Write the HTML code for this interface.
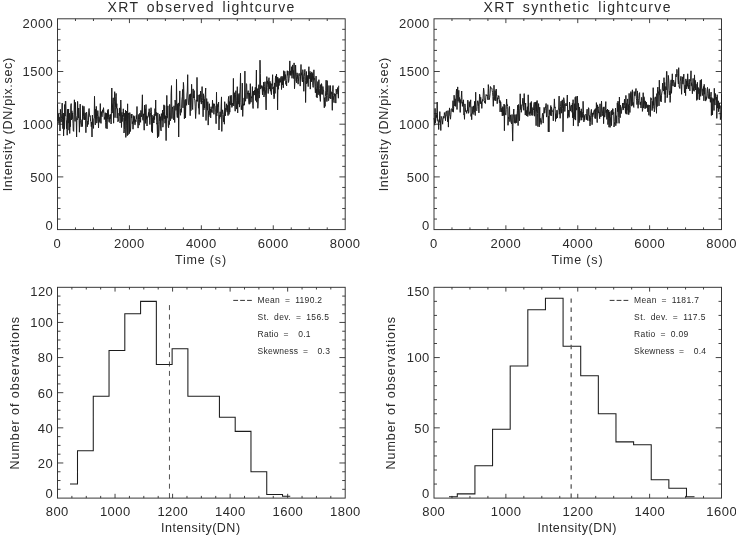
<!DOCTYPE html>
<html lang="en">
<head>
<meta charset="utf-8">
<title>XRT observed and synthetic lightcurves</title>
<style>
html,body{margin:0;padding:0;background:#fff;}
body{width:736px;height:535px;overflow:hidden;}
svg{display:block;}
text{white-space:pre;}
</style>
</head>
<body>
<svg width="736" height="535" viewBox="0 0 736 535">
<rect width="736" height="535" fill="#fff"/>
<rect x="57.5" y="18.8" width="287.7" height="210.8" fill="none" stroke="#2e2e2e" stroke-width="0.95"/>
<path d="M75.48 229.6v-2.2M75.48 18.8v2.2M93.46 229.6v-2.2M93.46 18.8v2.2M111.44 229.6v-2.2M111.44 18.8v2.2M129.43 229.6v-4.3M129.43 18.8v4.3M147.41 229.6v-2.2M147.41 18.8v2.2M165.39 229.6v-2.2M165.39 18.8v2.2M183.37 229.6v-2.2M183.37 18.8v2.2M201.35 229.6v-4.3M201.35 18.8v4.3M219.33 229.6v-2.2M219.33 18.8v2.2M237.31 229.6v-2.2M237.31 18.8v2.2M255.29 229.6v-2.2M255.29 18.8v2.2M273.27 229.6v-4.3M273.27 18.8v4.3M291.26 229.6v-2.2M291.26 18.8v2.2M309.24 229.6v-2.2M309.24 18.8v2.2M327.22 229.6v-2.2M327.22 18.8v2.2M57.5 219.06h3M345.2 219.06h-3M57.5 208.52h3M345.2 208.52h-3M57.5 197.98h3M345.2 197.98h-3M57.5 187.44h3M345.2 187.44h-3M57.5 176.9h5.8M345.2 176.9h-5.8M57.5 166.36h3M345.2 166.36h-3M57.5 155.82h3M345.2 155.82h-3M57.5 145.28h3M345.2 145.28h-3M57.5 134.74h3M345.2 134.74h-3M57.5 124.2h5.8M345.2 124.2h-5.8M57.5 113.66h3M345.2 113.66h-3M57.5 103.12h3M345.2 103.12h-3M57.5 92.58h3M345.2 92.58h-3M57.5 82.04h3M345.2 82.04h-3M57.5 71.5h5.8M345.2 71.5h-5.8M57.5 60.96h3M345.2 60.96h-3M57.5 50.42h3M345.2 50.42h-3M57.5 39.88h3M345.2 39.88h-3M57.5 29.34h3M345.2 29.34h-3" fill="none" stroke="#2e2e2e" stroke-width="0.9"/>
<rect x="434" y="18.8" width="287.5" height="210.8" fill="none" stroke="#2e2e2e" stroke-width="0.95"/>
<path d="M451.97 229.6v-2.2M451.97 18.8v2.2M469.94 229.6v-2.2M469.94 18.8v2.2M487.91 229.6v-2.2M487.91 18.8v2.2M505.88 229.6v-4.3M505.88 18.8v4.3M523.84 229.6v-2.2M523.84 18.8v2.2M541.81 229.6v-2.2M541.81 18.8v2.2M559.78 229.6v-2.2M559.78 18.8v2.2M577.75 229.6v-4.3M577.75 18.8v4.3M595.72 229.6v-2.2M595.72 18.8v2.2M613.69 229.6v-2.2M613.69 18.8v2.2M631.66 229.6v-2.2M631.66 18.8v2.2M649.62 229.6v-4.3M649.62 18.8v4.3M667.59 229.6v-2.2M667.59 18.8v2.2M685.56 229.6v-2.2M685.56 18.8v2.2M703.53 229.6v-2.2M703.53 18.8v2.2M434 219.06h3M721.5 219.06h-3M434 208.52h3M721.5 208.52h-3M434 197.98h3M721.5 197.98h-3M434 187.44h3M721.5 187.44h-3M434 176.9h5.8M721.5 176.9h-5.8M434 166.36h3M721.5 166.36h-3M434 155.82h3M721.5 155.82h-3M434 145.28h3M721.5 145.28h-3M434 134.74h3M721.5 134.74h-3M434 124.2h5.8M721.5 124.2h-5.8M434 113.66h3M721.5 113.66h-3M434 103.12h3M721.5 103.12h-3M434 92.58h3M721.5 92.58h-3M434 82.04h3M721.5 82.04h-3M434 71.5h5.8M721.5 71.5h-5.8M434 60.96h3M721.5 60.96h-3M434 50.42h3M721.5 50.42h-3M434 39.88h3M721.5 39.88h-3M434 29.34h3M721.5 29.34h-3" fill="none" stroke="#2e2e2e" stroke-width="0.9"/>
<rect x="57.5" y="287.3" width="287.7" height="210.8" fill="none" stroke="#2e2e2e" stroke-width="0.95"/>
<path d="M71.89 498.1v-2.2M71.89 287.3v2.2M86.27 498.1v-2.2M86.27 287.3v2.2M100.66 498.1v-2.2M100.66 287.3v2.2M115.04 498.1v-4.3M115.04 287.3v4.3M129.43 498.1v-2.2M129.43 287.3v2.2M143.81 498.1v-2.2M143.81 287.3v2.2M158.19 498.1v-2.2M158.19 287.3v2.2M172.58 498.1v-4.3M172.58 287.3v4.3M186.97 498.1v-2.2M186.97 287.3v2.2M201.35 498.1v-2.2M201.35 287.3v2.2M215.74 498.1v-2.2M215.74 287.3v2.2M230.12 498.1v-4.3M230.12 287.3v4.3M244.5 498.1v-2.2M244.5 287.3v2.2M258.89 498.1v-2.2M258.89 287.3v2.2M273.27 498.1v-2.2M273.27 287.3v2.2M287.66 498.1v-4.3M287.66 287.3v4.3M302.05 498.1v-2.2M302.05 287.3v2.2M316.43 498.1v-2.2M316.43 287.3v2.2M330.81 498.1v-2.2M330.81 287.3v2.2M57.5 489.32h3M345.2 489.32h-3M57.5 480.53h3M345.2 480.53h-3M57.5 471.75h3M345.2 471.75h-3M57.5 462.97h5.8M345.2 462.97h-5.8M57.5 454.18h3M345.2 454.18h-3M57.5 445.4h3M345.2 445.4h-3M57.5 436.62h3M345.2 436.62h-3M57.5 427.83h5.8M345.2 427.83h-5.8M57.5 419.05h3M345.2 419.05h-3M57.5 410.27h3M345.2 410.27h-3M57.5 401.48h3M345.2 401.48h-3M57.5 392.7h5.8M345.2 392.7h-5.8M57.5 383.92h3M345.2 383.92h-3M57.5 375.13h3M345.2 375.13h-3M57.5 366.35h3M345.2 366.35h-3M57.5 357.57h5.8M345.2 357.57h-5.8M57.5 348.78h3M345.2 348.78h-3M57.5 340h3M345.2 340h-3M57.5 331.22h3M345.2 331.22h-3M57.5 322.43h5.8M345.2 322.43h-5.8M57.5 313.65h3M345.2 313.65h-3M57.5 304.87h3M345.2 304.87h-3M57.5 296.08h3M345.2 296.08h-3" fill="none" stroke="#2e2e2e" stroke-width="0.9"/>
<rect x="434" y="287.3" width="287.5" height="210.8" fill="none" stroke="#2e2e2e" stroke-width="0.95"/>
<path d="M451.97 498.1v-2.2M451.97 287.3v2.2M469.94 498.1v-2.2M469.94 287.3v2.2M487.91 498.1v-2.2M487.91 287.3v2.2M505.88 498.1v-4.3M505.88 287.3v4.3M523.84 498.1v-2.2M523.84 287.3v2.2M541.81 498.1v-2.2M541.81 287.3v2.2M559.78 498.1v-2.2M559.78 287.3v2.2M577.75 498.1v-4.3M577.75 287.3v4.3M595.72 498.1v-2.2M595.72 287.3v2.2M613.69 498.1v-2.2M613.69 287.3v2.2M631.66 498.1v-2.2M631.66 287.3v2.2M649.62 498.1v-4.3M649.62 287.3v4.3M667.59 498.1v-2.2M667.59 287.3v2.2M685.56 498.1v-2.2M685.56 287.3v2.2M703.53 498.1v-2.2M703.53 287.3v2.2M434 484.05h3M721.5 484.05h-3M434 469.99h3M721.5 469.99h-3M434 455.94h3M721.5 455.94h-3M434 441.89h3M721.5 441.89h-3M434 427.83h5.8M721.5 427.83h-5.8M434 413.78h3M721.5 413.78h-3M434 399.73h3M721.5 399.73h-3M434 385.67h3M721.5 385.67h-3M434 371.62h3M721.5 371.62h-3M434 357.57h5.8M721.5 357.57h-5.8M434 343.51h3M721.5 343.51h-3M434 329.46h3M721.5 329.46h-3M434 315.41h3M721.5 315.41h-3M434 301.35h3M721.5 301.35h-3" fill="none" stroke="#2e2e2e" stroke-width="0.9"/>
<polyline points="57.5,104.2 57.9,121.0 58.2,117.1 58.6,114.2 58.9,123.5 59.3,117.3 59.7,117.4 60.0,131.0 60.4,109.4 60.7,112.7 61.1,122.2 61.5,118.7 61.8,113.4 62.2,103.1 62.5,119.2 62.9,128.7 63.3,113.0 63.6,135.9 64.0,115.2 64.3,129.3 64.7,104.5 65.1,116.1 65.4,101.0 65.8,101.5 66.1,117.7 66.5,128.7 66.9,120.5 67.2,135.2 67.6,109.2 67.9,120.6 68.3,123.1 68.6,109.0 69.0,130.2 69.4,113.2 69.7,133.5 70.1,122.5 70.4,126.7 70.8,105.9 71.2,103.6 71.5,119.9 71.9,110.8 72.2,118.8 72.6,112.9 73.0,123.2 73.3,130.7 73.7,131.4 74.0,114.4 74.4,99.8 74.8,115.2 75.1,121.4 75.5,102.4 75.8,115.5 76.2,116.6 76.6,137.0 76.9,118.4 77.3,119.8 77.6,101.4 78.0,113.4 78.4,118.1 78.7,108.0 79.1,120.2 79.4,132.2 79.8,118.1 80.2,104.1 80.5,120.3 80.9,124.3 81.2,126.7 81.6,125.5 82.0,119.7 82.3,126.6 82.7,105.7 83.0,119.7 83.4,116.8 83.8,106.6 84.1,106.3 84.5,119.9 84.8,115.8 85.2,112.8 85.6,120.2 85.9,132.7 86.3,113.9 86.6,112.2 87.0,116.1 87.3,126.8 87.7,121.2 88.1,124.5 88.4,122.4 88.8,110.1 89.1,108.5 89.5,115.3 89.9,116.5 90.2,115.6 90.6,121.2 90.9,121.8 91.3,126.7 91.7,122.0 92.0,137.0 92.4,115.1 92.7,124.8 93.1,125.5 93.5,128.4 93.8,118.5 94.2,118.1 94.5,96.3 94.9,116.9 95.3,124.9 95.6,109.1 96.0,118.8 96.3,106.4 96.7,123.1 97.1,121.6 97.4,116.8 97.8,110.6 98.1,114.2 98.5,128.0 98.9,116.7 99.2,117.8 99.6,121.1 99.9,122.5 100.3,103.6 100.7,120.1 101.0,123.4 101.4,111.6 101.7,115.3 102.1,116.7 102.5,109.8 102.8,111.8 103.2,112.6 103.5,107.7 103.9,112.7 104.3,119.5 104.6,117.4 105.0,118.5 105.3,112.7 105.7,122.6 106.0,128.3 106.4,113.2 106.8,124.2 107.1,128.8 107.5,110.5 107.8,118.9 108.2,109.3 108.6,117.2 108.9,121.6 109.3,122.4 109.6,116.6 110.0,114.6 110.4,118.7 110.7,114.4 111.1,124.0 111.4,111.8 111.8,88.0 112.2,113.1 112.5,106.0 112.9,102.8 113.2,97.8 113.6,123.2 114.0,105.0 114.3,101.4 114.7,91.7 115.0,117.7 115.4,107.7 115.8,96.7 116.1,93.4 116.5,108.3 116.8,103.7 117.2,118.1 117.6,108.5 117.9,121.8 118.3,120.2 118.6,120.6 119.0,113.1 119.4,115.6 119.7,107.9 120.1,123.0 120.4,117.1 120.8,100.0 121.2,112.4 121.5,127.5 121.9,112.3 122.2,121.6 122.6,115.0 123.0,115.8 123.3,108.8 123.7,117.5 124.0,133.0 124.4,129.4 124.7,113.1 125.1,120.9 125.5,110.2 125.8,137.4 126.2,125.2 126.5,111.0 126.9,125.9 127.3,135.7 127.6,103.8 128.0,134.9 128.3,115.2 128.7,112.9 129.1,119.2 129.4,133.6 129.8,112.6 130.1,131.7 130.5,130.9 130.9,123.2 131.2,114.3 131.6,118.0 131.9,114.0 132.3,123.8 132.7,121.7 133.0,129.2 133.4,122.8 133.7,115.6 134.1,122.6 134.5,116.5 134.8,124.7 135.2,124.8 135.5,119.8 135.9,121.7 136.3,115.5 136.6,118.7 137.0,106.5 137.3,121.8 137.7,121.8 138.1,128.1 138.4,119.8 138.8,114.4 139.1,125.2 139.5,119.5 139.9,113.2 140.2,119.6 140.6,122.3 140.9,110.4 141.3,117.0 141.7,114.3 142.0,108.0 142.4,94.8 142.7,119.3 143.1,120.4 143.5,113.8 143.8,116.8 144.2,130.2 144.5,105.2 144.9,114.7 145.2,108.8 145.6,123.4 146.0,104.5 146.3,119.3 146.7,115.8 147.0,126.0 147.4,116.6 147.8,117.3 148.1,117.2 148.5,112.5 148.8,115.7 149.2,108.7 149.6,120.2 149.9,124.5 150.3,117.1 150.6,112.3 151.0,107.7 151.4,111.2 151.7,131.6 152.1,115.1 152.4,132.8 152.8,117.9 153.2,122.7 153.5,116.4 153.9,123.0 154.2,114.3 154.6,119.6 155.0,108.6 155.3,115.7 155.7,100.0 156.0,115.0 156.4,112.4 156.8,124.2 157.1,123.1 157.5,137.9 157.8,112.9 158.2,124.6 158.6,136.6 158.9,133.9 159.3,121.9 159.6,114.3 160.0,120.9 160.4,116.6 160.7,128.9 161.1,130.9 161.4,113.6 161.8,116.7 162.2,120.5 162.5,110.1 162.9,127.2 163.2,122.9 163.6,111.4 163.9,104.8 164.3,118.8 164.7,105.6 165.0,123.2 165.4,115.7 165.7,119.4 166.1,140.6 166.5,115.5 166.8,95.4 167.2,118.2 167.5,117.4 167.9,105.8 168.3,126.1 168.6,127.7 169.0,120.8 169.3,124.6 169.7,104.4 170.1,112.1 170.4,120.9 170.8,118.6 171.1,93.9 171.5,85.6 171.9,118.6 172.2,109.9 172.6,106.9 172.9,109.8 173.3,118.2 173.7,119.8 174.0,105.8 174.4,110.5 174.7,122.5 175.1,100.1 175.5,102.9 175.8,110.4 176.2,110.2 176.5,79.4 176.9,112.8 177.3,117.5 177.6,104.1 178.0,117.5 178.3,102.9 178.7,137.0 179.1,106.2 179.4,106.2 179.8,90.9 180.1,112.8 180.5,115.3 180.9,109.0 181.2,112.4 181.6,107.9 181.9,99.8 182.3,96.7 182.6,89.5 183.0,107.9 183.4,82.4 183.7,86.1 184.1,102.9 184.4,118.8 184.8,101.3 185.2,99.8 185.5,118.0 185.9,99.2 186.2,101.1 186.6,105.3 187.0,94.0 187.3,91.0 187.7,74.7 188.0,97.0 188.4,103.8 188.8,104.8 189.1,98.0 189.5,94.5 189.8,102.9 190.2,115.7 190.6,93.8 190.9,110.8 191.3,97.3 191.6,84.3 192.0,98.3 192.4,107.4 192.7,109.5 193.1,88.9 193.4,98.1 193.8,93.7 194.2,90.6 194.5,98.5 194.9,100.8 195.2,106.1 195.6,118.5 196.0,111.1 196.3,100.1 196.7,101.2 197.0,77.4 197.4,101.4 197.8,99.5 198.1,94.9 198.5,108.2 198.8,103.9 199.2,114.4 199.6,94.6 199.9,102.2 200.3,99.0 200.6,91.0 201.0,94.9 201.3,104.1 201.7,97.6 202.1,86.6 202.4,100.6 202.8,103.0 203.1,116.8 203.5,93.8 203.9,109.9 204.2,99.2 204.6,107.9 204.9,97.0 205.3,94.6 205.7,88.0 206.0,120.5 206.4,106.1 206.7,98.6 207.1,108.2 207.5,110.2 207.8,101.7 208.2,125.1 208.5,110.9 208.9,116.7 209.3,103.7 209.6,111.8 210.0,114.9 210.3,109.0 210.7,117.9 211.1,106.7 211.4,112.1 211.8,109.9 212.1,112.7 212.5,100.2 212.9,108.4 213.2,103.6 213.6,104.1 213.9,114.3 214.3,103.8 214.7,105.7 215.0,106.1 215.4,111.8 215.7,112.2 216.1,123.7 216.5,92.2 216.8,115.9 217.2,105.4 217.5,112.6 217.9,103.8 218.3,106.7 218.6,102.0 219.0,130.0 219.3,115.3 219.7,118.5 220.1,111.8 220.4,116.8 220.8,116.3 221.1,106.2 221.5,96.9 221.8,131.4 222.2,114.5 222.6,109.8 222.9,112.0 223.3,114.3 223.6,121.8 224.0,118.2 224.4,124.2 224.7,101.7 225.1,108.9 225.4,115.8 225.8,108.1 226.2,110.3 226.5,103.8 226.9,106.7 227.2,112.1 227.6,105.4 228.0,115.6 228.3,99.6 228.7,96.4 229.0,114.4 229.4,101.6 229.8,112.2 230.1,95.7 230.5,96.6 230.8,105.0 231.2,95.2 231.6,106.0 231.9,107.4 232.3,106.6 232.6,103.0 233.0,104.2 233.4,78.4 233.7,105.9 234.1,94.9 234.4,92.7 234.8,104.2 235.2,111.2 235.5,94.2 235.9,90.7 236.2,100.6 236.6,109.1 237.0,96.7 237.3,86.7 237.7,112.9 238.0,94.3 238.4,100.2 238.8,104.2 239.1,93.4 239.5,107.1 239.8,94.4 240.2,86.2 240.5,73.2 240.9,102.8 241.3,109.6 241.6,105.7 242.0,110.0 242.3,83.1 242.7,116.4 243.1,103.6 243.4,105.5 243.8,103.7 244.1,97.9 244.5,105.2 244.9,71.1 245.2,101.0 245.6,101.2 245.9,92.6 246.3,83.6 246.7,84.6 247.0,98.7 247.4,92.8 247.7,93.6 248.1,90.6 248.5,92.6 248.8,101.9 249.2,104.3 249.5,93.1 249.9,103.6 250.3,83.7 250.6,94.0 251.0,102.2 251.3,96.7 251.7,98.1 252.1,95.1 252.4,86.6 252.8,105.2 253.1,108.5 253.5,91.2 253.9,95.2 254.2,92.5 254.6,90.2 254.9,95.0 255.3,87.3 255.7,100.5 256.0,93.0 256.4,70.0 256.7,102.2 257.1,88.5 257.5,88.8 257.8,108.3 258.2,101.9 258.5,90.8 258.9,84.7 259.2,98.1 259.6,94.3 260.0,60.2 260.3,73.6 260.7,89.1 261.0,85.9 261.4,87.6 261.8,85.5 262.1,87.8 262.5,94.8 262.8,86.5 263.2,91.3 263.6,82.1 263.9,97.0 264.3,95.4 264.6,86.4 265.0,81.7 265.4,89.9 265.7,95.9 266.1,109.9 266.4,94.0 266.8,76.6 267.2,83.7 267.5,80.9 267.9,87.6 268.2,93.5 268.6,81.2 269.0,77.7 269.3,85.0 269.7,89.1 270.0,81.3 270.4,91.2 270.8,83.2 271.1,93.1 271.5,94.7 271.8,84.1 272.2,85.4 272.6,74.7 272.9,89.1 273.3,86.8 273.6,94.3 274.0,98.8 274.4,97.9 274.7,82.9 275.1,93.4 275.4,78.1 275.8,75.9 276.2,86.7 276.5,74.0 276.9,82.9 277.2,77.0 277.6,109.9 278.0,77.6 278.3,89.3 278.7,79.2 279.0,85.7 279.4,83.4 279.7,78.4 280.1,81.0 280.5,82.3 280.8,77.1 281.2,76.4 281.5,89.5 281.9,77.4 282.3,76.4 282.6,84.9 283.0,77.6 283.3,87.8 283.7,70.7 284.1,80.7 284.4,79.5 284.8,71.4 285.1,79.4 285.5,74.6 285.9,84.4 286.2,81.2 286.6,86.0 286.9,78.5 287.3,70.7 287.7,75.3 288.0,71.1 288.4,82.5 288.7,81.4 289.1,78.5 289.5,71.9 289.8,60.9 290.2,75.0 290.5,70.9 290.9,75.6 291.3,74.8 291.6,66.7 292.0,78.3 292.3,73.7 292.7,64.9 293.1,74.2 293.4,70.5 293.8,78.6 294.1,62.9 294.5,88.7 294.9,81.9 295.2,81.4 295.6,65.1 295.9,72.8 296.3,76.6 296.7,82.9 297.0,72.8 297.4,74.4 297.7,79.3 298.1,84.2 298.4,81.9 298.8,73.9 299.2,73.3 299.5,74.8 299.9,76.2 300.2,86.1 300.6,75.0 301.0,64.5 301.3,75.2 301.7,72.7 302.0,79.7 302.4,81.9 302.8,69.7 303.1,73.7 303.5,79.8 303.8,91.3 304.2,76.4 304.6,72.3 304.9,69.4 305.3,80.5 305.6,102.5 306.0,79.3 306.4,71.5 306.7,83.9 307.1,77.5 307.4,82.6 307.8,75.3 308.2,86.6 308.5,74.9 308.9,66.7 309.2,78.8 309.6,74.7 310.0,71.3 310.3,89.1 310.7,73.0 311.0,76.2 311.4,81.8 311.8,71.9 312.1,79.7 312.5,73.4 312.8,85.3 313.2,87.4 313.6,75.1 313.9,69.8 314.3,79.5 314.6,78.4 315.0,87.2 315.4,92.8 315.7,86.4 316.1,76.1 316.4,97.0 316.8,88.9 317.1,97.9 317.5,85.9 317.9,81.5 318.2,94.8 318.6,90.0 318.9,79.7 319.3,88.6 319.7,96.0 320.0,96.8 320.4,101.4 320.7,84.6 321.1,94.2 321.5,83.6 321.8,85.0 322.2,94.6 322.5,94.2 322.9,86.5 323.3,90.6 323.6,90.2 324.0,102.1 324.3,107.8 324.7,97.7 325.1,106.4 325.4,96.5 325.8,90.3 326.1,80.2 326.5,95.5 326.9,101.6 327.2,80.6 327.6,92.8 327.9,95.6 328.3,100.7 328.7,100.5 329.0,85.5 329.4,96.3 329.7,98.1 330.1,98.2 330.5,85.6 330.8,99.0 331.2,91.7 331.5,94.1 331.9,94.3 332.3,110.3 332.6,91.4 333.0,85.5 333.3,95.5 333.7,100.6 334.1,102.7 334.4,93.5 334.8,96.2 335.1,95.0 335.5,94.1 335.8,103.1 336.2,89.1 336.6,92.3 336.9,94.1 337.3,92.0 337.6,87.6 338.0,92.8 338.4,98.2 338.7,85.7" fill="none" stroke="#1c1c1c" stroke-width="1" stroke-linejoin="round"/>
<polyline points="434.0,118.2 434.4,120.2 434.7,125.2 435.1,108.4 435.4,122.9 435.8,120.1 436.2,114.9 436.5,117.5 436.9,112.2 437.2,102.1 437.6,120.9 438.0,120.7 438.3,122.0 438.7,129.5 439.0,119.6 439.4,122.3 439.8,111.6 440.1,119.0 440.5,122.0 440.8,130.5 441.2,116.4 441.5,117.3 441.9,118.2 442.3,120.8 442.6,124.2 443.0,119.2 443.3,116.3 443.7,118.2 444.1,118.1 444.4,112.6 444.8,114.9 445.1,115.3 445.5,120.7 445.9,111.8 446.2,111.4 446.6,111.1 446.9,116.3 447.3,116.5 447.7,121.8 448.0,110.6 448.4,127.1 448.7,116.3 449.1,115.4 449.5,107.9 449.8,112.2 450.2,117.1 450.5,119.2 450.9,114.5 451.2,109.0 451.6,108.7 452.0,109.5 452.3,111.7 452.7,108.3 453.0,100.7 453.4,112.2 453.8,105.0 454.1,95.2 454.5,100.7 454.8,106.0 455.2,98.8 455.6,106.4 455.9,101.4 456.3,91.7 456.6,89.1 457.0,109.5 457.4,94.8 457.7,86.9 458.1,101.2 458.4,97.1 458.8,90.3 459.2,102.5 459.5,97.5 459.9,101.0 460.2,112.4 460.6,99.6 461.0,103.3 461.3,97.3 461.7,91.0 462.0,99.7 462.4,106.4 462.8,102.1 463.1,104.1 463.5,99.8 463.8,114.7 464.2,113.7 464.5,119.3 464.9,103.9 465.3,107.7 465.6,111.4 466.0,112.0 466.3,111.2 466.7,113.4 467.1,110.0 467.4,111.1 467.8,100.1 468.1,106.5 468.5,113.3 468.9,112.0 469.2,101.6 469.6,106.1 469.9,107.2 470.3,104.8 470.7,99.8 471.0,116.4 471.4,113.7 471.7,119.7 472.1,106.6 472.5,111.9 472.8,113.7 473.2,114.4 473.5,105.9 473.9,110.4 474.2,112.3 474.6,101.3 475.0,114.6 475.3,115.5 475.7,92.2 476.0,109.4 476.4,110.0 476.8,110.7 477.1,106.8 477.5,101.0 477.8,100.7 478.2,101.6 478.6,106.1 478.9,112.9 479.3,102.0 479.6,94.2 480.0,96.5 480.4,103.5 480.7,97.3 481.1,104.0 481.4,101.7 481.8,108.4 482.2,102.6 482.5,99.5 482.9,101.1 483.2,95.1 483.6,88.1 484.0,91.1 484.3,100.5 484.7,102.7 485.0,101.9 485.4,103.5 485.8,97.1 486.1,94.5 486.5,95.6 486.8,95.2 487.2,95.0 487.5,96.5 487.9,99.8 488.3,84.6 488.6,88.3 489.0,99.8 489.3,99.4 489.7,97.2 490.1,93.6 490.4,86.5 490.8,88.1 491.1,88.0 491.5,88.1 491.9,88.2 492.2,90.7 492.6,92.6 492.9,96.3 493.3,106.3 493.7,96.7 494.0,85.2 494.4,99.7 494.7,100.4 495.1,90.6 495.5,96.9 495.8,100.9 496.2,89.0 496.5,95.3 496.9,95.1 497.2,103.7 497.6,97.8 498.0,99.1 498.3,97.3 498.7,95.6 499.0,96.3 499.4,102.7 499.8,100.1 500.1,111.9 500.5,101.5 500.8,101.9 501.2,109.0 501.6,112.0 501.9,108.2 502.3,115.9 502.6,106.7 503.0,107.4 503.4,115.5 503.7,109.8 504.1,104.0 504.4,130.7 504.8,105.2 505.2,112.8 505.5,114.4 505.9,115.1 506.2,109.5 506.6,99.0 507.0,105.3 507.3,104.6 507.7,106.5 508.0,125.3 508.4,117.0 508.8,118.9 509.1,108.8 509.5,106.5 509.8,121.6 510.2,117.7 510.5,114.9 510.9,121.8 511.3,123.1 511.6,123.9 512.0,114.5 512.3,126.2 512.7,141.1 513.1,119.1 513.4,114.4 513.8,109.0 514.1,122.4 514.5,122.9 514.9,114.6 515.2,123.4 515.6,121.0 515.9,116.7 516.3,114.5 516.7,122.9 517.0,117.0 517.4,110.5 517.7,105.2 518.1,125.6 518.5,104.5 518.8,106.8 519.2,118.7 519.5,120.7 519.9,108.3 520.2,93.8 520.6,109.5 521.0,104.7 521.3,112.3 521.7,108.8 522.0,106.6 522.4,103.9 522.8,98.1 523.1,98.4 523.5,107.4 523.8,110.3 524.2,93.6 524.6,104.4 524.9,105.6 525.3,115.1 525.6,103.0 526.0,112.7 526.4,110.5 526.7,116.0 527.1,110.6 527.4,106.7 527.8,116.5 528.2,94.8 528.5,107.1 528.9,114.5 529.2,114.3 529.6,111.8 530.0,115.7 530.3,102.9 530.7,113.4 531.0,102.3 531.4,101.5 531.8,115.3 532.1,107.5 532.5,111.1 532.8,115.5 533.2,110.5 533.5,110.1 533.9,104.2 534.3,102.3 534.6,116.2 535.0,111.9 535.3,106.1 535.7,102.1 536.1,125.7 536.4,101.8 536.8,111.4 537.1,100.5 537.5,113.4 537.9,126.6 538.2,110.7 538.6,103.6 538.9,111.2 539.3,126.9 539.7,107.2 540.0,122.4 540.4,118.4 540.7,119.8 541.1,124.4 541.5,120.7 541.8,119.2 542.2,116.9 542.5,113.4 542.9,115.4 543.2,123.1 543.6,114.8 544.0,107.3 544.3,107.6 544.7,113.2 545.0,110.1 545.4,108.5 545.8,105.6 546.1,103.5 546.5,117.0 546.8,116.9 547.2,105.5 547.6,104.8 547.9,104.8 548.3,131.8 548.6,116.3 549.0,132.0 549.4,109.8 549.7,114.1 550.1,114.1 550.4,115.2 550.8,105.5 551.2,116.0 551.5,107.1 551.9,110.2 552.2,111.4 552.6,110.6 553.0,112.8 553.3,120.8 553.7,108.6 554.0,108.5 554.4,98.9 554.8,108.1 555.1,106.9 555.5,121.4 555.8,113.7 556.2,115.6 556.5,118.6 556.9,110.2 557.3,118.0 557.6,115.1 558.0,110.4 558.3,109.4 558.7,109.3 559.1,96.1 559.4,114.2 559.8,108.8 560.1,118.3 560.5,106.6 560.9,101.8 561.2,101.0 561.6,113.2 561.9,110.5 562.3,99.8 562.7,108.6 563.0,131.8 563.4,113.9 563.7,97.7 564.1,99.8 564.5,103.3 564.8,111.5 565.2,106.8 565.5,104.4 565.9,103.3 566.2,105.5 566.6,106.0 567.0,102.9 567.3,95.0 567.7,118.2 568.0,114.1 568.4,115.5 568.8,110.0 569.1,117.3 569.5,102.1 569.8,105.4 570.2,108.0 570.6,111.1 570.9,105.7 571.3,105.8 571.6,105.0 572.0,112.3 572.4,103.3 572.7,117.8 573.1,99.7 573.4,125.8 573.8,112.6 574.2,116.9 574.5,103.7 574.9,119.3 575.2,97.3 575.6,120.1 576.0,96.4 576.3,107.2 576.7,110.2 577.0,107.7 577.4,96.1 577.8,105.0 578.1,126.2 578.5,103.4 578.8,110.1 579.2,122.7 579.5,107.0 579.9,120.4 580.3,111.3 580.6,111.1 581.0,117.3 581.3,108.8 581.7,120.2 582.1,112.3 582.4,117.4 582.8,115.2 583.1,101.3 583.5,113.6 583.9,121.9 584.2,115.6 584.6,120.2 584.9,115.1 585.3,114.4 585.7,115.1 586.0,115.3 586.4,119.7 586.7,113.3 587.1,109.2 587.5,120.4 587.8,116.6 588.2,115.7 588.5,107.7 588.9,108.8 589.2,120.9 589.6,115.5 590.0,125.9 590.3,122.3 590.7,115.7 591.0,111.6 591.4,109.4 591.8,117.8 592.1,124.7 592.5,113.0 592.8,116.7 593.2,112.7 593.6,114.4 593.9,110.7 594.3,111.0 594.6,109.7 595.0,118.4 595.4,108.6 595.7,118.6 596.1,114.6 596.4,102.6 596.8,112.5 597.2,122.6 597.5,104.8 597.9,107.9 598.2,106.9 598.6,113.1 599.0,112.0 599.3,115.7 599.7,118.7 600.0,103.8 600.4,116.3 600.8,117.0 601.1,116.6 601.5,101.1 601.8,107.6 602.2,115.8 602.5,113.5 602.9,109.7 603.3,107.2 603.6,123.7 604.0,106.8 604.3,114.2 604.7,117.2 605.1,115.4 605.4,107.8 605.8,101.6 606.1,112.6 606.5,110.1 606.9,119.4 607.2,111.0 607.6,109.0 607.9,124.6 608.3,118.4 608.7,110.0 609.0,127.2 609.4,118.2 609.7,111.9 610.1,127.4 610.5,119.0 610.8,116.3 611.2,111.0 611.5,125.6 611.9,110.0 612.2,115.0 612.6,108.8 613.0,108.7 613.3,113.8 613.7,112.5 614.0,127.0 614.4,124.1 614.8,121.5 615.1,116.8 615.5,108.0 615.8,125.7 616.2,115.7 616.6,122.0 616.9,123.3 617.3,102.8 617.6,111.6 618.0,101.1 618.4,103.8 618.7,117.5 619.1,123.3 619.4,97.0 619.8,113.1 620.2,117.7 620.5,105.2 620.9,108.5 621.2,113.6 621.6,111.1 622.0,107.5 622.3,107.8 622.7,103.0 623.0,110.0 623.4,109.7 623.8,103.1 624.1,104.7 624.5,99.2 624.8,107.9 625.2,106.6 625.5,113.3 625.9,95.4 626.3,114.2 626.6,103.4 627.0,110.3 627.3,101.9 627.7,98.9 628.1,114.4 628.4,104.6 628.8,114.6 629.1,93.4 629.5,105.3 629.9,112.5 630.2,106.5 630.6,93.0 630.9,91.6 631.3,92.8 631.7,106.2 632.0,101.8 632.4,89.8 632.7,105.2 633.1,102.4 633.5,106.3 633.8,107.4 634.2,91.6 634.5,95.2 634.9,96.1 635.2,95.1 635.6,92.0 636.0,88.5 636.3,98.3 636.7,100.3 637.0,104.6 637.4,90.9 637.8,101.6 638.1,108.3 638.5,100.4 638.8,98.7 639.2,93.5 639.6,92.6 639.9,104.2 640.3,104.9 640.6,101.9 641.0,108.0 641.4,100.9 641.7,97.3 642.1,100.3 642.4,111.4 642.8,108.8 643.2,92.7 643.5,108.0 643.9,96.7 644.2,97.6 644.6,104.0 645.0,108.7 645.3,100.9 645.7,108.3 646.0,103.8 646.4,102.2 646.8,107.8 647.1,104.8 647.5,105.5 647.8,111.8 648.2,104.8 648.5,107.6 648.9,115.3 649.3,105.4 649.6,105.0 650.0,107.0 650.3,116.5 650.7,97.7 651.1,98.2 651.4,98.3 651.8,100.4 652.1,110.6 652.5,101.5 652.9,108.3 653.2,87.7 653.6,105.4 653.9,97.5 654.3,111.9 654.7,109.4 655.0,105.1 655.4,96.8 655.7,97.7 656.1,99.3 656.5,113.3 656.8,93.6 657.2,106.5 657.5,89.3 657.9,87.1 658.2,93.3 658.6,91.7 659.0,105.9 659.3,80.2 659.7,95.1 660.0,89.4 660.4,101.0 660.8,95.3 661.1,102.0 661.5,95.3 661.8,93.0 662.2,90.9 662.6,83.1 662.9,88.7 663.3,90.0 663.6,91.0 664.0,77.7 664.4,94.3 664.7,82.4 665.1,102.7 665.4,95.2 665.8,86.5 666.2,89.9 666.5,71.5 666.9,71.3 667.2,97.7 667.6,94.4 668.0,88.0 668.3,75.4 668.7,79.0 669.0,83.9 669.4,95.0 669.8,91.1 670.1,102.4 670.5,95.3 670.8,82.3 671.2,79.8 671.5,93.3 671.9,83.9 672.3,73.8 672.6,83.2 673.0,86.1 673.3,80.0 673.7,80.4 674.1,83.1 674.4,87.0 674.8,86.1 675.1,82.6 675.5,86.6 675.9,74.2 676.2,76.9 676.6,75.4 676.9,69.3 677.3,72.3 677.7,73.4 678.0,80.3 678.4,84.0 678.7,67.7 679.1,87.2 679.5,86.9 679.8,88.5 680.2,81.5 680.5,80.2 680.9,76.3 681.2,84.5 681.6,94.3 682.0,81.0 682.3,76.8 682.7,83.0 683.0,84.2 683.4,79.7 683.8,74.1 684.1,84.0 684.5,92.9 684.8,87.4 685.2,84.9 685.6,95.6 685.9,78.9 686.3,89.0 686.6,80.8 687.0,82.9 687.4,86.3 687.7,73.8 688.1,88.1 688.4,88.9 688.8,82.7 689.2,79.2 689.5,84.6 689.9,90.9 690.2,80.0 690.6,80.5 691.0,70.8 691.3,85.7 691.7,82.8 692.0,87.8 692.4,93.7 692.8,83.5 693.1,78.4 693.5,90.4 693.8,88.1 694.2,91.3 694.5,74.9 694.9,88.0 695.3,80.4 695.6,90.0 696.0,84.2 696.3,89.0 696.7,100.4 697.1,85.0 697.4,82.3 697.8,99.5 698.1,87.4 698.5,89.3 698.9,93.8 699.2,88.7 699.6,99.9 699.9,86.0 700.3,80.2 700.7,96.3 701.0,88.8 701.4,79.4 701.7,88.1 702.1,92.6 702.5,95.5 702.8,88.8 703.2,91.1 703.5,86.5 703.9,100.8 704.2,84.3 704.6,94.2 705.0,87.8 705.3,97.0 705.7,101.1 706.0,96.7 706.4,99.5 706.8,96.1 707.1,89.8 707.5,87.4 707.8,93.4 708.2,98.5 708.6,98.3 708.9,91.9 709.3,88.8 709.6,98.7 710.0,97.8 710.4,102.3 710.7,96.5 711.1,92.1 711.4,115.5 711.8,97.5 712.2,103.1 712.5,115.0 712.9,98.4 713.2,101.4 713.6,98.8 714.0,110.5 714.3,88.3 714.7,101.8 715.0,105.1 715.4,93.5 715.8,99.5 716.1,98.8 716.5,97.1 716.8,118.4 717.2,94.7 717.5,108.1 717.9,104.4 718.3,100.8 718.6,111.7 719.0,105.5 719.3,103.1 719.7,108.7 720.1,105.6 720.4,119.6 720.8,117.3 721.1,117.5 721.5,108.1 721.5,94.1" fill="none" stroke="#1c1c1c" stroke-width="1" stroke-linejoin="round"/>
<path d="M70 484.05H77.5V450.67H93.27V396.21H109.04V350.54H124.81V313.65H140.58V301.35H156.35V364.59H172.12V348.78H187.89V396.21H203.66V396.21H219.43V417.29H235.2V431.35H250.97V471.75H266.74V494.59H282.51V496.34H290.25" fill="none" stroke="#1c1c1c" stroke-width="1.05"/>
<path d="M449 496.69H457.3V493.88H474.93V465.78H492.56V429.24H510.19V366H527.82V309.79H545.45V298.26H563.08V346.32H580.71V375.84H598.34V413.78H615.97V441.89H633.6V444.7H651.23V479.83H668.86V488.26H686.49V496.69H694.5" fill="none" stroke="#1c1c1c" stroke-width="1.05"/>
<path d="M169.46 498.1V302.76" stroke="#333" stroke-width="0.85" stroke-dasharray="5 4.4" fill="none"/>
<path d="M571.17 498.1V298.54" stroke="#5a5a5a" stroke-width="1.3" stroke-dasharray="4.6 4.7" fill="none"/>
<g font-family='"Liberation Sans", "DejaVu Sans", sans-serif' fill="#2a2a2a">
<text x="107.6" y="12.2" font-size="14" textLength="186.7" lengthAdjust="spacing" word-spacing="2.5">XRT observed lightcurve</text>
<text x="483.5" y="12.2" font-size="14" textLength="187" lengthAdjust="spacing" word-spacing="2.5">XRT synthetic lightcurve</text>
<text x="52.8" y="27.7" font-size="13" text-anchor="end" textLength="30.3" lengthAdjust="spacing">2000</text>
<text x="52.8" y="76.3" font-size="13" text-anchor="end" textLength="30.3" lengthAdjust="spacing">1500</text>
<text x="52.8" y="129" font-size="13" text-anchor="end" textLength="30.3" lengthAdjust="spacing">1000</text>
<text x="52.8" y="181.7" font-size="13" text-anchor="end" textLength="22.6" lengthAdjust="spacing">500</text>
<text x="52.8" y="229.9" font-size="13" text-anchor="end">0</text>
<text x="57.2" y="248.4" font-size="13" text-anchor="middle">0</text>
<text x="129.12" y="248.4" font-size="13" text-anchor="middle" textLength="30.3" lengthAdjust="spacing">2000</text>
<text x="201.05" y="248.4" font-size="13" text-anchor="middle" textLength="30.3" lengthAdjust="spacing">4000</text>
<text x="272.97" y="248.4" font-size="13" text-anchor="middle" textLength="30.3" lengthAdjust="spacing">6000</text>
<text x="344.9" y="248.4" font-size="13" text-anchor="middle" textLength="30.3" lengthAdjust="spacing">8000</text>
<text x="200.55" y="263.7" font-size="12.5" text-anchor="middle" textLength="51" lengthAdjust="spacing">Time (s)</text>
<text x="11.8" y="124.6" font-size="12.5" text-anchor="middle" textLength="133.5" lengthAdjust="spacing" transform="rotate(-90 11.8 124.6)">Intensity (DN/pix.sec)</text>
<text x="429.3" y="27.7" font-size="13" text-anchor="end" textLength="30.3" lengthAdjust="spacing">2000</text>
<text x="429.3" y="76.3" font-size="13" text-anchor="end" textLength="30.3" lengthAdjust="spacing">1500</text>
<text x="429.3" y="129" font-size="13" text-anchor="end" textLength="30.3" lengthAdjust="spacing">1000</text>
<text x="429.3" y="181.7" font-size="13" text-anchor="end" textLength="22.6" lengthAdjust="spacing">500</text>
<text x="429.3" y="229.9" font-size="13" text-anchor="end">0</text>
<text x="433.7" y="248.4" font-size="13" text-anchor="middle">0</text>
<text x="505.62" y="248.4" font-size="13" text-anchor="middle" textLength="30.3" lengthAdjust="spacing">2000</text>
<text x="577.55" y="248.4" font-size="13" text-anchor="middle" textLength="30.3" lengthAdjust="spacing">4000</text>
<text x="649.48" y="248.4" font-size="13" text-anchor="middle" textLength="30.3" lengthAdjust="spacing">6000</text>
<text x="721.4" y="248.4" font-size="13" text-anchor="middle" textLength="30.3" lengthAdjust="spacing">8000</text>
<text x="577.05" y="263.7" font-size="12.5" text-anchor="middle" textLength="51" lengthAdjust="spacing">Time (s)</text>
<text x="388.3" y="124.6" font-size="12.5" text-anchor="middle" textLength="133.5" lengthAdjust="spacing" transform="rotate(-90 388.3 124.6)">Intensity (DN/pix.sec)</text>
<text x="52.8" y="296" font-size="13" text-anchor="end" textLength="22.6" lengthAdjust="spacing">120</text>
<text x="52.8" y="327.23" font-size="13" text-anchor="end" textLength="22.6" lengthAdjust="spacing">100</text>
<text x="52.8" y="362.37" font-size="13" text-anchor="end" textLength="15" lengthAdjust="spacing">80</text>
<text x="52.8" y="397.5" font-size="13" text-anchor="end" textLength="15" lengthAdjust="spacing">60</text>
<text x="52.8" y="432.63" font-size="13" text-anchor="end" textLength="15" lengthAdjust="spacing">40</text>
<text x="52.8" y="467.77" font-size="13" text-anchor="end" textLength="15" lengthAdjust="spacing">20</text>
<text x="52.8" y="497.9" font-size="13" text-anchor="end">0</text>
<text x="57" y="516.2" font-size="13" text-anchor="middle" textLength="22.7" lengthAdjust="spacing">800</text>
<text x="115.04" y="516.2" font-size="13" text-anchor="middle" textLength="30.3" lengthAdjust="spacing">1000</text>
<text x="172.58" y="516.2" font-size="13" text-anchor="middle" textLength="30.3" lengthAdjust="spacing">1200</text>
<text x="230.12" y="516.2" font-size="13" text-anchor="middle" textLength="30.3" lengthAdjust="spacing">1400</text>
<text x="287.66" y="516.2" font-size="13" text-anchor="middle" textLength="30.3" lengthAdjust="spacing">1600</text>
<text x="345.2" y="516.2" font-size="13" text-anchor="middle" textLength="30.3" lengthAdjust="spacing">1800</text>
<text x="200.55" y="531.5" font-size="12.5" text-anchor="middle" textLength="79" lengthAdjust="spacing">Intensity(DN)</text>
<text x="18.7" y="393.2" font-size="12.5" text-anchor="middle" textLength="152.5" lengthAdjust="spacing" transform="rotate(-90 18.7 393.2)">Number of observations</text>
<text x="429.3" y="296" font-size="13" text-anchor="end" textLength="22.6" lengthAdjust="spacing">150</text>
<text x="429.3" y="362.37" font-size="13" text-anchor="end" textLength="22.6" lengthAdjust="spacing">100</text>
<text x="429.3" y="432.63" font-size="13" text-anchor="end" textLength="15" lengthAdjust="spacing">50</text>
<text x="429.3" y="497.9" font-size="13" text-anchor="end">0</text>
<text x="433.5" y="516.2" font-size="13" text-anchor="middle" textLength="22.7" lengthAdjust="spacing">800</text>
<text x="505.88" y="516.2" font-size="13" text-anchor="middle" textLength="30.3" lengthAdjust="spacing">1000</text>
<text x="577.75" y="516.2" font-size="13" text-anchor="middle" textLength="30.3" lengthAdjust="spacing">1200</text>
<text x="649.62" y="516.2" font-size="13" text-anchor="middle" textLength="30.3" lengthAdjust="spacing">1400</text>
<text x="721.5" y="516.2" font-size="13" text-anchor="middle" textLength="30.3" lengthAdjust="spacing">1600</text>
<text x="576.95" y="531.5" font-size="12.5" text-anchor="middle" textLength="79" lengthAdjust="spacing">Intensity(DN)</text>
<text x="395.2" y="393.2" font-size="12.5" text-anchor="middle" textLength="152.5" lengthAdjust="spacing" transform="rotate(-90 395.2 393.2)">Number of observations</text>
<path d="M233.25 300.4h18.6" stroke="#1c1c1c" stroke-width="0.9" stroke-dasharray="4.8 2.1" fill="none"/>
<text x="257.6" y="303" font-size="8.5" textLength="64.5" lengthAdjust="spacing" xml:space="preserve" word-spacing="2.2">Mean = 1190.2</text>
<text x="257.6" y="320" font-size="8.5" textLength="71.4" lengthAdjust="spacing" xml:space="preserve" word-spacing="2.2">St. dev. = 156.5</text>
<text x="257.6" y="336.7" font-size="8.5" textLength="52.9" lengthAdjust="spacing" xml:space="preserve" word-spacing="2.2">Ratio =  0.1</text>
<text x="257.6" y="353.6" font-size="8.5" textLength="72.3" lengthAdjust="spacing" xml:space="preserve" word-spacing="2.2">Skewness =  0.3</text>
<path d="M609.7 300.4h18.6" stroke="#1c1c1c" stroke-width="0.9" stroke-dasharray="4.8 2.1" fill="none"/>
<text x="634.1" y="303" font-size="8.5" textLength="64.8" lengthAdjust="spacing" xml:space="preserve" word-spacing="2.2">Mean = 1181.7</text>
<text x="634.1" y="320" font-size="8.5" textLength="71.4" lengthAdjust="spacing" xml:space="preserve" word-spacing="2.2">St. dev. = 117.5</text>
<text x="634.1" y="336.7" font-size="8.5" textLength="54.2" lengthAdjust="spacing" xml:space="preserve" word-spacing="2.2">Ratio = 0.09</text>
<text x="634.1" y="353.6" font-size="8.5" textLength="71.9" lengthAdjust="spacing" xml:space="preserve" word-spacing="2.2">Skewness =  0.4</text>
</g>
</svg>
</body>
</html>
